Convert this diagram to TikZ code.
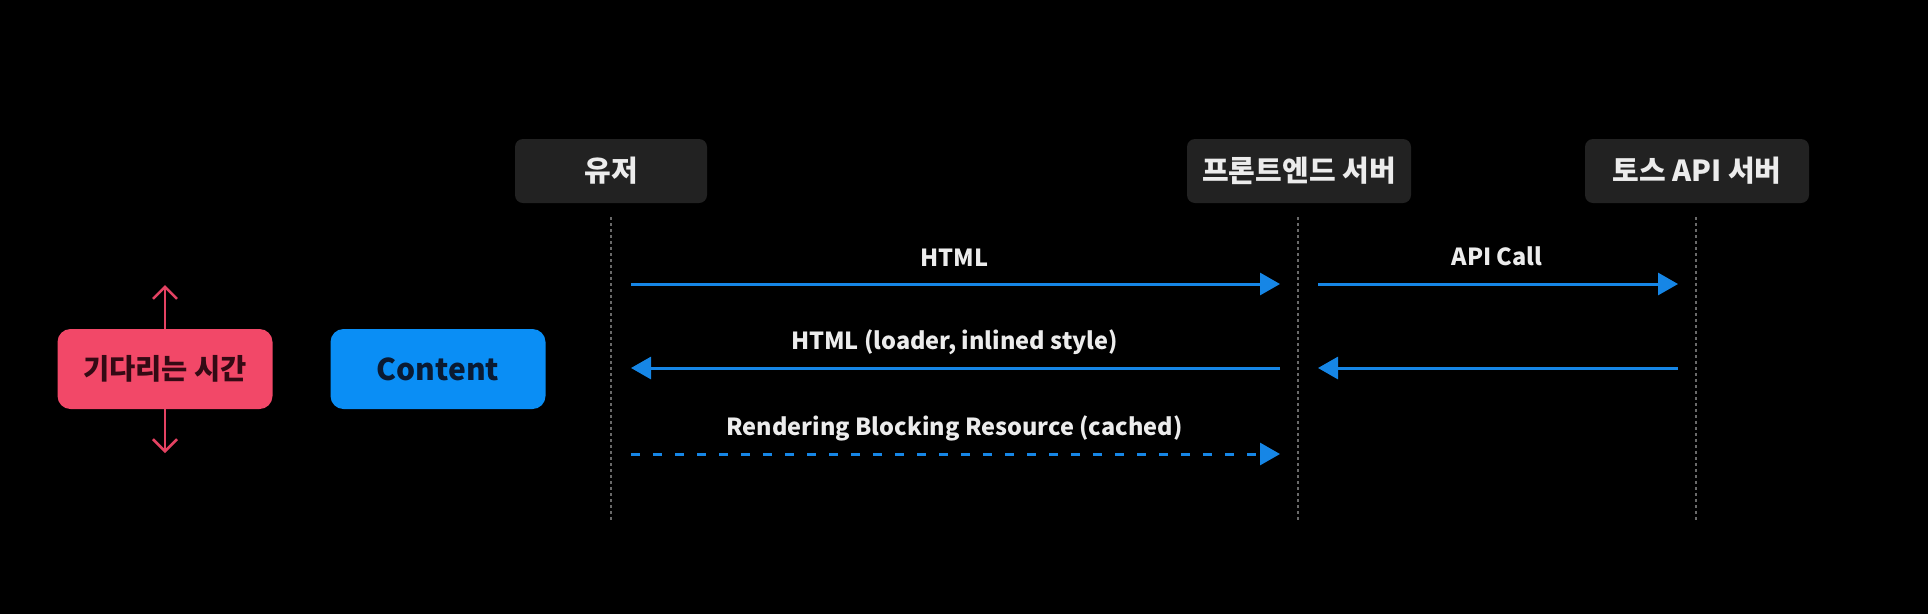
\documentclass[tikz,border=0pt]{standalone}
\usepackage{fontspec}
\setmainfont{Noto Sans CJK KR}
\usetikzlibrary{arrows.meta}
\definecolor{boxgray}{RGB}{34,34,34}
\definecolor{hdrtext}{RGB}{236,236,236}
\definecolor{msgblue}{RGB}{22,134,230}
\definecolor{contentblue}{RGB}{10,142,245}
\definecolor{waitpink}{RGB}{242,72,104}
\definecolor{waitarrow}{RGB}{228,66,98}
\definecolor{waittext}{RGB}{52,10,20}
\definecolor{contenttext}{RGB}{10,26,50}
\definecolor{lifegray}{RGB}{105,105,105}
\begin{document}
\begin{tikzpicture}[x=1pt,y=-1pt,
  actor/.style={fill=boxgray, rounded corners=8pt, minimum height=64pt, text=hdrtext, font=\fontsize{29}{33}\selectfont\bfseries, inner sep=0pt},
  lifeline/.style={draw=lifegray, line width=1.3pt, dash pattern=on 3pt off 3pt},
  msg/.style={draw=msgblue, line width=3pt, -{Triangle[length=20pt,width=22pt]}},
  lbl/.style={text=hdrtext, font=\fontsize{23.5}{27}\selectfont\bfseries, inner sep=0pt, text height=16pt, text depth=5pt},
  legendbox/.style={rounded corners=13pt, minimum width=215pt, minimum height=80pt, inner sep=0pt},
  waitarr/.style={draw=waitarrow, line width=2.5pt, -{Straight Barb[length=12pt,width=24pt,line width=2.5pt]}}
]
\fill[black] (0,0) rectangle (1928,614);
\useasboundingbox (0,0) rectangle (1928,614);

% actors
\node[actor, minimum width=192pt] (user) at (611,171) {유저};
\node[actor, minimum width=224pt] (front) at (1299,171) {프론트엔드 서버};
\node[actor, minimum width=224pt] (toss) at (1697,171) {토스 API 서버};

% lifeline ends
\coordinate (uT) at (611,217);  \coordinate (uB) at (611,520);
\coordinate (fT) at (1298,217); \coordinate (fB) at (1298,520);
\coordinate (tT) at (1696,217); \coordinate (tB) at (1696,520);
\draw[lifeline] (uT) -- (uB);
\draw[lifeline] (fT) -- (fB);
\draw[lifeline] (tT) -- (tB);

% message anchor points
\coordinate (u1) at (611,284); \coordinate (f1) at (1298,284); \coordinate (t1) at (1696,284);
\coordinate (u2) at (611,368); \coordinate (f2) at (1298,368); \coordinate (t2) at (1696,368);
\coordinate (u3) at (611,454); \coordinate (f3) at (1298,454);

\draw[msg, shorten <=20pt, shorten >=18pt] (u1) -- node[lbl, yshift=23pt] (l1) {HTML} (f1);
\draw[msg, shorten <=20pt, shorten >=18pt] (f1) -- node[lbl, yshift=24pt] (l2) {API Call} (t1);
\draw[msg, shorten <=18pt, shorten >=20pt] (f2) -- node[lbl, yshift=24pt] (l3) {HTML (loader, inlined style)} (u2);
\draw[msg, shorten <=18pt, shorten >=20pt] (t2) -- (f2);
\draw[msg, dash pattern=on 9pt off 13pt, shorten <=20pt, shorten >=18pt] (u3) -- node[lbl, yshift=24pt] (l4) {Rendering Blocking Resource (cached)} (f3);

% legend
\node[legendbox, fill=waitpink, text=waittext, font=\fontsize{28.5}{32}\selectfont\bfseries] (wait) at (165,369) {기다리는 시간};
\node[legendbox, fill=contentblue, text=contenttext, font=\fontsize{30}{34}\selectfont\bfseries] (content) at (438,369) {Content};
\coordinate (wTop) at (165,285);
\coordinate (wBot) at (165,453);
\draw[waitarr] (wait.north) -- (wTop);
\draw[waitarr] (wait.south) -- (wBot);
\end{tikzpicture}
\end{document}
